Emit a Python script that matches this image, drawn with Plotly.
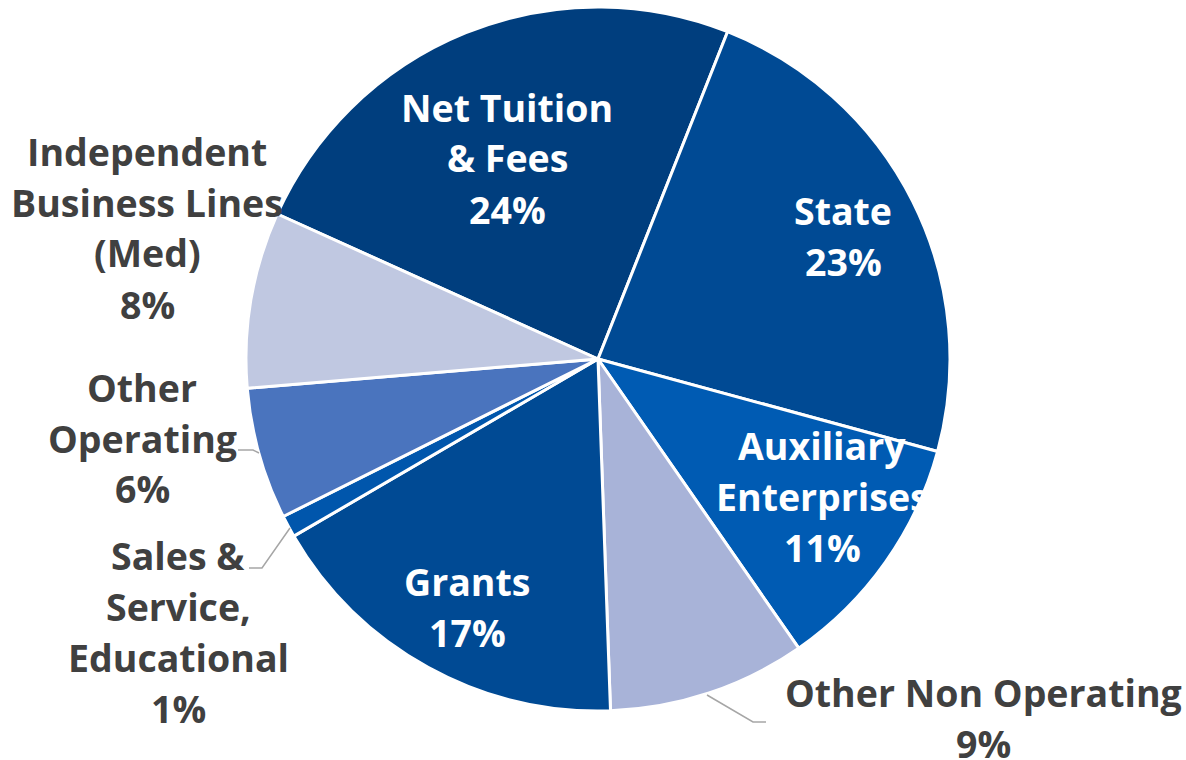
import plotly.graph_objects as go

# Revenue sources (percent of total)
labels = [
    "Net Tuition & Fees",
    "State",
    "Auxiliary Enterprises",
    "Other Non Operating",
    "Grants",
    "Sales & Service, Educational",
    "Other Operating",
    "Independent Business Lines (Med)",
]
values = [24, 23, 11, 9, 17, 1, 6, 8]
colors = [
    "#003E7E",
    "#004A94",
    "#005BB3",
    "#A8B3D8",
    "#004A94",
    "#0056AC",
    "#4A74BE",
    "#C0C8E1",
]

W, H = 1186, 760
CX, CY, R = 598, 359, 352

# Label text broken into lines, and where each label block sits (pixels)
label_lines = {
    "Net Tuition & Fees": ["Net Tuition", "& Fees"],
    "State": ["State"],
    "Auxiliary Enterprises": ["Auxiliary", "Enterprises"],
    "Other Non Operating": ["Other Non Operating"],
    "Grants": ["Grants"],
    "Sales & Service, Educational": ["Sales &", "Service,", "Educational"],
    "Other Operating": ["Other", "Operating"],
    "Independent Business Lines (Med)": ["Independent", "Business Lines", "(Med)"],
}
label_pos = {
    "Net Tuition & Fees": (507, 107, "white"),
    "State": (843, 210, "white"),
    "Auxiliary Enterprises": (822, 445, "white"),
    "Other Non Operating": (983, 692, "#404040"),
    "Grants": (467, 581, "white"),
    "Sales & Service, Educational": (178, 555, "#404040"),
    "Other Operating": (142, 387, "#404040"),
    "Independent Business Lines (Med)": (147, 151, "#404040"),
}
LINE_GAP = 51
FONT_SIZE = 37.5

# Leader lines for the labels placed outside the pie
leaders = [
    [(238, 450), (253, 450), (259, 453)],
    [(249, 568), (262, 568), (290, 528)],
    [(707, 695), (753, 722), (766, 722)],
]


def px(x):
    return x / W


def py(y):
    return 1 - y / H


fig = go.Figure(
    go.Pie(
        labels=labels,
        values=values,
        sort=False,
        direction="clockwise",
        rotation=21.6 - values[0] / sum(values) * 360,
        marker=dict(colors=colors, line=dict(color="white", width=3)),
        textinfo="none",
        hoverinfo="label+value",
        showlegend=False,
        domain=dict(
            x=[px(CX - R), px(CX + R)],
            y=[py(CY + R), py(CY - R)],
        ),
    )
)

annotations = []
for lab, val in zip(labels, values):
    x, y0, col = label_pos[lab]
    lines = label_lines[lab] + [f"{val}%"]
    for i, line in enumerate(lines):
        annotations.append(
            dict(
                x=px(x),
                y=py(y0 + i * LINE_GAP),
                xref="paper",
                yref="paper",
                text=line,
                showarrow=False,
                xanchor="center",
                yanchor="middle",
                font=dict(family="Open Sans", size=FONT_SIZE, color=col, weight=700),
            )
        )

shapes = []
for pts in leaders:
    path = "M " + " L ".join(f"{px(a)},{py(b)}" for a, b in pts)
    shapes.append(
        dict(
            type="path",
            path=path,
            xref="paper",
            yref="paper",
            line=dict(color="#A6A6A6", width=1.5),
        )
    )

fig.update_layout(
    width=W,
    height=H,
    margin=dict(l=0, r=0, t=0, b=0),
    paper_bgcolor="white",
    plot_bgcolor="white",
    annotations=annotations,
    shapes=shapes,
)

fig.write_html("out.html")
